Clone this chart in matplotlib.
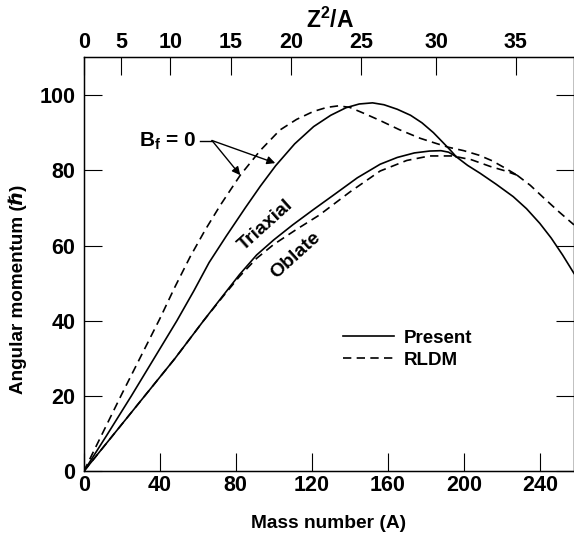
import matplotlib.pyplot as plt

plt.rcParams['font.family'] = ['Liberation Sans', 'DejaVu Sans']
plt.rcParams['font.weight'] = 'bold'
plt.rcParams['axes.labelweight'] = 'bold'
plt.rcParams['mathtext.fontset'] = 'custom'
plt.rcParams['mathtext.rm'] = 'Liberation Sans:bold'
plt.rcParams['mathtext.bf'] = 'Liberation Sans:bold'
plt.rcParams['mathtext.default'] = 'bf'

# Present (solid), triaxial branch
triax_present_A = [0, 12, 25, 37, 49, 58, 66, 75, 85, 93, 101, 111, 121, 130, 138,
                   145, 152, 158, 165, 172, 178, 184, 189, 193, 196]
triax_present_L = [0, 9.5, 20, 30, 40, 48, 55.5, 62.5, 70, 75.8, 81.2, 87, 91.6, 94.6, 96.6,
                   97.6, 97.9, 97.4, 96.2, 94.6, 92.6, 90, 87.4, 85.3, 83.6]

# Present (solid), oblate branch
oblate_present_A = [0, 16, 32, 48, 63, 73, 82, 91, 100, 110, 121, 132, 144, 156,
                    165, 174, 182, 188, 192, 196]
oblate_present_L = [0, 10, 20, 30, 40, 46.5, 52.3, 57.5, 61.5, 65.5, 69.6, 73.6, 78, 81.6,
                    83.4, 84.6, 85.1, 85.2, 84.8, 83.6]

# Present, common part at high A
common_present_A = [196, 202, 208.6, 217, 226, 233, 240, 246, 252, 258]
common_present_L = [83.6, 81.3, 79.2, 76.3, 73, 69.8, 65.9, 62, 57.5, 52.6]

# RLDM (dashed), triaxial branch
triax_rldm_A = [0, 20, 40, 48, 56, 64, 72, 82.4, 93, 103.3, 112, 120.8, 128, 134, 140,
                148, 156, 166, 177, 185, 192, 200, 208, 215, 222, 228]
triax_rldm_L = [0, 20.5, 40.5, 49, 57, 64.2, 70.8, 78.7, 85.3, 90.7, 93.5, 95.6, 96.7, 97.1, 96.7,
                95, 93.2, 90.8, 88.5, 87.2, 86.1, 85.2, 84, 82.5, 80.5, 78.7]

# RLDM (dashed), oblate branch
oblate_rldm_A = [0, 16, 32, 48, 63, 73, 82, 91, 100, 112, 124, 140, 156, 170, 182,
                 194, 204, 214, 222, 228]
oblate_rldm_L = [0, 10, 20, 30, 40, 46.3, 51.8, 56.6, 60.3, 64.3, 68.1, 74.2, 79.8, 82.6, 83.8,
                 83.8, 82.8, 81, 79.8, 78.7]

# RLDM, common part
common_rldm_A = [228, 235, 242, 250, 258]
common_rldm_L = [78.7, 76, 72.7, 69, 65.5]

# top axis: Z^2/A values and the mass numbers where they sit
z2a_labels = [0, 5, 10, 15, 20, 25, 30, 35]
z2a_at_A = [0, 19.8, 45.6, 77.5, 109.3, 145.8, 185.4, 227.4]

fig = plt.figure(figsize=(5.74, 5.41), dpi=100)
ax = fig.add_axes([0.1458, 0.1285, 0.8542, 0.7656])

lw = 1.2
dash = (5, 3.2)
h_present, = ax.plot(triax_present_A, triax_present_L, 'k-', lw=lw)
ax.plot(oblate_present_A, oblate_present_L, 'k-', lw=lw)
ax.plot(common_present_A, common_present_L, 'k-', lw=lw)
h_rldm, = ax.plot(triax_rldm_A, triax_rldm_L, 'k--', lw=lw, dashes=dash)
ax.plot(oblate_rldm_A, oblate_rldm_L, 'k--', lw=lw, dashes=dash)
ax.plot(common_rldm_A, common_rldm_L, 'k--', lw=lw, dashes=dash)

ax.set_xlim(0, 258)
ax.set_ylim(0, 110)
ax.set_xticks([0, 40, 80, 120, 160, 200, 240])
ax.set_yticks([0, 20, 40, 60, 80, 100])
ax.tick_params(direction='in', length=13, width=0.8, labelsize=15.5,
               right=True, pad=6)
ax.tick_params(axis='x', pad=2.5)
for s in ax.spines.values():
    s.set_linewidth(1.0)

top = ax.twiny()
top.set_xlim(ax.get_xlim())
top.set_xticks(z2a_at_A)
top.set_xticklabels([str(v) for v in z2a_labels])
top.tick_params(direction='in', length=13, width=0.8, labelsize=15.5, pad=3)

ax.set_xlabel('Mass number (A)', fontsize=13.8)
ax.xaxis.set_label_coords(0.499, -0.105)
ax.set_ylabel('Angular momentum (ℏ)', fontsize=13.6)
ax.yaxis.set_label_coords(-0.115, 0.44)
top.set_xlabel(r'Z$^2$/A', fontsize=16.5)
top.xaxis.set_label_coords(0.503, 1.07)

# B_f = 0 annotation
ax.text(59, 87.6, r'B$_\mathbf{f}$ = 0', fontsize=15, ha='right', va='center')
ax.plot([61.3, 67.5], [87.9, 87.9], 'k-', lw=1.0)
ax.annotate('', xy=(100.8, 81.9), xytext=(67.5, 87.9),
            arrowprops=dict(arrowstyle='-|>', color='k', lw=1.0,
                            mutation_scale=12, shrinkA=0, shrinkB=0))
ax.annotate('', xy=(82.4, 78.7), xytext=(67.5, 87.9),
            arrowprops=dict(arrowstyle='-|>', color='k', lw=1.0,
                            mutation_scale=12, shrinkA=0, shrinkB=0))

ax.text(96, 65.5, 'Triaxial', fontsize=14, rotation=42, ha='center', va='center')
ax.text(111.5, 57.5, 'Oblate', fontsize=14, rotation=42, ha='center', va='center')

ax.legend(handles=[h_present, h_rldm], labels=['Present', 'RLDM'],
          frameon=False, fontsize=13.5, loc='upper left',
          bbox_to_anchor=(0.529, 0.342), borderaxespad=0, borderpad=0,
          handlelength=2.7, handletextpad=0.55, labelspacing=0.25)

plt.savefig('out.png')
